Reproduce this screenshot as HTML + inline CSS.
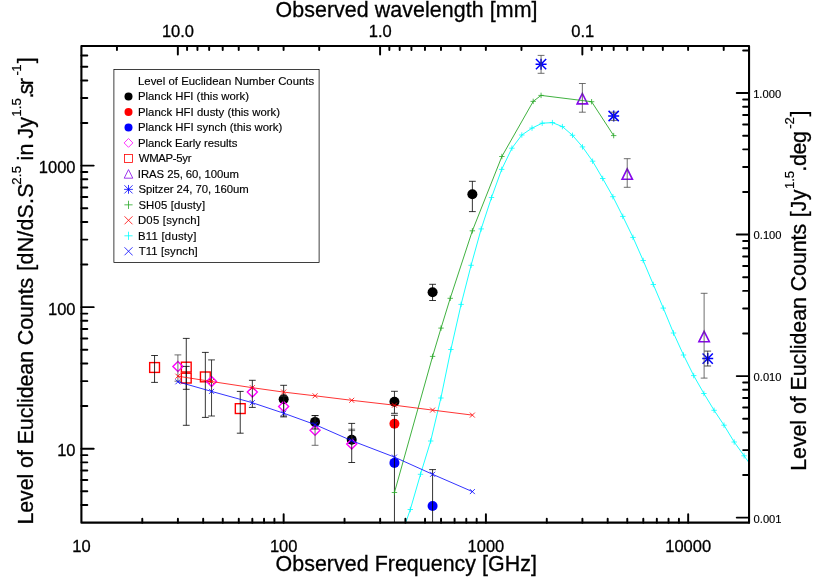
<!DOCTYPE html>
<html><head><meta charset="utf-8"><title>Euclidean Number Counts</title>
<style>html,body{margin:0;padding:0;background:#fff;}body{width:814px;height:581px;overflow:hidden;font-family:"Liberation Sans",sans-serif;}svg text{font-family:"Liberation Sans",sans-serif;}</style></head>
<body>
<svg width="814" height="581" viewBox="0 0 814 581" style="display:block;will-change:transform">
<rect width="814" height="581" fill="#fff"/>
<defs><clipPath id="c"><rect x="81.4" y="46.0" width="667.65" height="476.65"/></clipPath></defs>
<g clip-path="url(#c)">
<rect x="149.66" y="362.60" width="9.80" height="9.80" stroke="#ff0000" stroke-width="1.4" fill="none"/>
<rect x="181.37" y="362.20" width="9.80" height="9.80" stroke="#ff0000" stroke-width="1.4" fill="none"/>
<rect x="181.37" y="373.20" width="9.80" height="9.80" stroke="#ff0000" stroke-width="1.4" fill="none"/>
<rect x="200.44" y="372.00" width="9.80" height="9.80" stroke="#ff0000" stroke-width="1.4" fill="none"/>
<rect x="235.34" y="403.70" width="9.80" height="9.80" stroke="#ff0000" stroke-width="1.4" fill="none"/>
<circle cx="283.66" cy="399.20" r="5.0" fill="#000"/>
<circle cx="315.07" cy="421.90" r="5.0" fill="#000"/>
<circle cx="351.71" cy="439.70" r="5.0" fill="#000"/>
<circle cx="394.45" cy="401.80" r="5.0" fill="#000"/>
<circle cx="432.59" cy="292.30" r="5.0" fill="#000"/>
<circle cx="472.36" cy="194.20" r="5.0" fill="#000"/>
<circle cx="394.45" cy="423.70" r="5.0" fill="#ff0000"/>
<circle cx="394.45" cy="462.90" r="5.0" fill="#0000ff"/>
<circle cx="432.59" cy="506.00" r="5.0" fill="#0000ff"/>
<path d="M172.90 366.50L177.90 361.50L182.90 366.50L177.90 371.50Z" stroke="#ff00ff" stroke-width="1.4" fill="none"/>
<path d="M206.54 381.50L211.54 376.50L216.54 381.50L211.54 386.50Z" stroke="#ff00ff" stroke-width="1.4" fill="none"/>
<path d="M247.33 392.10L252.33 387.10L257.33 392.10L252.33 397.10Z" stroke="#ff00ff" stroke-width="1.4" fill="none"/>
<path d="M278.66 406.40L283.66 401.40L288.66 406.40L283.66 411.40Z" stroke="#ff00ff" stroke-width="1.4" fill="none"/>
<path d="M310.07 430.20L315.07 425.20L320.07 430.20L315.07 435.20Z" stroke="#ff00ff" stroke-width="1.4" fill="none"/>
<path d="M346.71 444.00L351.71 439.00L356.71 444.00L351.71 449.00Z" stroke="#ff00ff" stroke-width="1.4" fill="none"/>
<path d="M577.15 103.90L582.35 93.50L587.55 103.90Z" stroke="#8608ea" stroke-width="1.6" fill="none" stroke-linejoin="miter"/>
<path d="M622.02 179.30L627.22 168.90L632.42 179.30Z" stroke="#8608ea" stroke-width="1.6" fill="none" stroke-linejoin="miter"/>
<path d="M698.92 341.70L704.12 331.30L709.32 341.70Z" stroke="#8608ea" stroke-width="1.6" fill="none" stroke-linejoin="miter"/>
<path d="M535.57 64.20H546.57M541.07 58.70V69.70M535.95 59.09L546.18 69.31M535.95 69.31L546.18 59.09" stroke="#0000ff" stroke-width="1.5" fill="none"/>
<path d="M608.18 116.00H619.18M613.68 110.50V121.50M608.56 110.89L618.79 121.11M608.56 121.11L618.79 110.89" stroke="#0000ff" stroke-width="1.5" fill="none"/>
<path d="M702.21 358.60H713.21M707.71 353.10V364.10M702.59 353.49L712.82 363.72M702.59 363.72L712.82 353.49" stroke="#0000ff" stroke-width="1.5" fill="none"/>
<path d="M154.56 355.50V382.40M151.16 355.50H157.96M151.16 382.40H157.96" stroke="#000" stroke-width="0.8" fill="none"/>
<path d="M186.27 338.40V425.30M182.87 338.40H189.67M182.87 425.30H189.67" stroke="#000" stroke-width="0.8" fill="none"/>
<path d="M186.27 366.40V389.30M182.87 366.40H189.67M182.87 389.30H189.67" stroke="#000" stroke-width="0.8" fill="none"/>
<path d="M205.34 352.40V417.40M201.94 352.40H208.74M201.94 417.40H208.74" stroke="#000" stroke-width="0.8" fill="none"/>
<path d="M240.24 391.40V433.20M236.84 391.40H243.64M236.84 433.20H243.64" stroke="#000" stroke-width="0.8" fill="none"/>
<path d="M177.90 354.90V381.20M174.50 354.90H181.30M174.50 381.20H181.30" stroke="#4a4a4a" stroke-width="0.8" fill="none"/>
<path d="M211.54 359.90V416.00M208.14 359.90H214.94M208.14 416.00H214.94" stroke="#111" stroke-width="0.8" fill="none"/>
<path d="M252.33 380.30V407.40M248.93 380.30H255.73M248.93 407.40H255.73" stroke="#000" stroke-width="0.8" fill="none"/>
<path d="M283.66 396.00V416.00M280.26 396.00H287.06M280.26 416.00H287.06" stroke="#4a4a4a" stroke-width="0.8" fill="none"/>
<path d="M315.07 415.50V445.30M311.67 415.50H318.47M311.67 445.30H318.47" stroke="#4a4a4a" stroke-width="0.8" fill="none"/>
<path d="M351.71 429.20V444.00M348.31 429.20H355.11" stroke="#4a4a4a" stroke-width="0.8" fill="none"/>
<path d="M351.71 430.60V444.00M348.31 430.60H355.11" stroke="#4a4a4a" stroke-width="0.8" fill="none"/>
<path d="M283.66 385.30V416.90M280.26 385.30H287.06M280.26 416.90H287.06" stroke="#000" stroke-width="0.8" fill="none"/>
<path d="M315.07 415.60V429.00M311.67 415.60H318.47M311.67 429.00H318.47" stroke="#000" stroke-width="0.8" fill="none"/>
<path d="M351.71 423.40V462.50M348.31 423.40H355.11M348.31 462.50H355.11" stroke="#000" stroke-width="0.8" fill="none"/>
<path d="M394.45 391.30V413.30M391.05 391.30H397.85M391.05 413.30H397.85" stroke="#000" stroke-width="0.8" fill="none"/>
<path d="M394.45 415.30V540.00M391.05 415.30H397.85M391.05 540.00H397.85" stroke="#000" stroke-width="0.8" fill="none"/>
<path d="M432.59 284.30V300.50M429.19 284.30H435.99M429.19 300.50H435.99" stroke="#000" stroke-width="0.8" fill="none"/>
<path d="M472.36 181.30V211.60M468.96 181.30H475.76M468.96 211.60H475.76" stroke="#000" stroke-width="0.8" fill="none"/>
<path d="M432.59 469.60V540.00M429.19 469.60H435.99M429.19 540.00H435.99" stroke="#000" stroke-width="0.8" fill="none"/>
<path d="M541.07 55.40V73.30M537.67 55.40H544.47M537.67 73.30H544.47" stroke="#4a4a4a" stroke-width="0.8" fill="none"/>
<path d="M582.35 83.50V112.20M578.95 83.50H585.75M578.95 112.20H585.75" stroke="#4a4a4a" stroke-width="0.8" fill="none"/>
<path d="M613.68 112.20V120.40M610.28 112.20H617.08M610.28 120.40H617.08" stroke="#4a4a4a" stroke-width="0.8" fill="none"/>
<path d="M627.22 158.70V187.30M623.82 158.70H630.62M623.82 187.30H630.62" stroke="#4a4a4a" stroke-width="0.8" fill="none"/>
<path d="M704.12 293.30V378.10M700.72 293.30H707.52M700.72 378.10H707.52" stroke="#4a4a4a" stroke-width="0.8" fill="none"/>
<path d="M707.71 351.10V366.00M704.31 351.10H711.11M704.31 366.00H711.11" stroke="#222" stroke-width="0.8" fill="none"/>
<polyline points="400.20,538.40 410.30,509.50 420.50,474.30 430.70,441.00 440.90,398.00 450.90,349.50 461.10,304.40 471.10,265.30 481.20,228.90 491.50,197.50 501.70,169.40 511.90,148.20 521.80,135.00 532.00,128.10 542.20,123.20 552.40,122.60 562.40,126.60 572.50,135.30 582.50,146.90 592.60,161.20 602.70,178.50 612.90,196.70 622.80,216.40 633.00,237.40 643.20,260.50 653.30,284.50 663.30,308.10 673.50,333.00 683.50,355.00 693.70,375.60 703.90,393.50 714.10,410.30 724.00,425.20 734.20,442.00 744.10,455.80 754.20,470.00" stroke="#00ffff" stroke-width="0.9" fill="none"/>
<path d="M397.50 538.40H402.90M400.20 535.70V541.10" stroke="#00ffff" stroke-width="0.8" fill="none"/>
<path d="M407.60 509.50H413.00M410.30 506.80V512.20" stroke="#00ffff" stroke-width="0.8" fill="none"/>
<path d="M417.80 474.30H423.20M420.50 471.60V477.00" stroke="#00ffff" stroke-width="0.8" fill="none"/>
<path d="M428.00 441.00H433.40M430.70 438.30V443.70" stroke="#00ffff" stroke-width="0.8" fill="none"/>
<path d="M438.20 398.00H443.60M440.90 395.30V400.70" stroke="#00ffff" stroke-width="0.8" fill="none"/>
<path d="M448.20 349.50H453.60M450.90 346.80V352.20" stroke="#00ffff" stroke-width="0.8" fill="none"/>
<path d="M458.40 304.40H463.80M461.10 301.70V307.10" stroke="#00ffff" stroke-width="0.8" fill="none"/>
<path d="M468.40 265.30H473.80M471.10 262.60V268.00" stroke="#00ffff" stroke-width="0.8" fill="none"/>
<path d="M478.50 228.90H483.90M481.20 226.20V231.60" stroke="#00ffff" stroke-width="0.8" fill="none"/>
<path d="M488.80 197.50H494.20M491.50 194.80V200.20" stroke="#00ffff" stroke-width="0.8" fill="none"/>
<path d="M499.00 169.40H504.40M501.70 166.70V172.10" stroke="#00ffff" stroke-width="0.8" fill="none"/>
<path d="M509.20 148.20H514.60M511.90 145.50V150.90" stroke="#00ffff" stroke-width="0.8" fill="none"/>
<path d="M519.10 135.00H524.50M521.80 132.30V137.70" stroke="#00ffff" stroke-width="0.8" fill="none"/>
<path d="M529.30 128.10H534.70M532.00 125.40V130.80" stroke="#00ffff" stroke-width="0.8" fill="none"/>
<path d="M539.50 123.20H544.90M542.20 120.50V125.90" stroke="#00ffff" stroke-width="0.8" fill="none"/>
<path d="M549.70 122.60H555.10M552.40 119.90V125.30" stroke="#00ffff" stroke-width="0.8" fill="none"/>
<path d="M559.70 126.60H565.10M562.40 123.90V129.30" stroke="#00ffff" stroke-width="0.8" fill="none"/>
<path d="M569.80 135.30H575.20M572.50 132.60V138.00" stroke="#00ffff" stroke-width="0.8" fill="none"/>
<path d="M579.80 146.90H585.20M582.50 144.20V149.60" stroke="#00ffff" stroke-width="0.8" fill="none"/>
<path d="M589.90 161.20H595.30M592.60 158.50V163.90" stroke="#00ffff" stroke-width="0.8" fill="none"/>
<path d="M600.00 178.50H605.40M602.70 175.80V181.20" stroke="#00ffff" stroke-width="0.8" fill="none"/>
<path d="M610.20 196.70H615.60M612.90 194.00V199.40" stroke="#00ffff" stroke-width="0.8" fill="none"/>
<path d="M620.10 216.40H625.50M622.80 213.70V219.10" stroke="#00ffff" stroke-width="0.8" fill="none"/>
<path d="M630.30 237.40H635.70M633.00 234.70V240.10" stroke="#00ffff" stroke-width="0.8" fill="none"/>
<path d="M640.50 260.50H645.90M643.20 257.80V263.20" stroke="#00ffff" stroke-width="0.8" fill="none"/>
<path d="M650.60 284.50H656.00M653.30 281.80V287.20" stroke="#00ffff" stroke-width="0.8" fill="none"/>
<path d="M660.60 308.10H666.00M663.30 305.40V310.80" stroke="#00ffff" stroke-width="0.8" fill="none"/>
<path d="M670.80 333.00H676.20M673.50 330.30V335.70" stroke="#00ffff" stroke-width="0.8" fill="none"/>
<path d="M680.80 355.00H686.20M683.50 352.30V357.70" stroke="#00ffff" stroke-width="0.8" fill="none"/>
<path d="M691.00 375.60H696.40M693.70 372.90V378.30" stroke="#00ffff" stroke-width="0.8" fill="none"/>
<path d="M701.20 393.50H706.60M703.90 390.80V396.20" stroke="#00ffff" stroke-width="0.8" fill="none"/>
<path d="M711.40 410.30H716.80M714.10 407.60V413.00" stroke="#00ffff" stroke-width="0.8" fill="none"/>
<path d="M721.30 425.20H726.70M724.00 422.50V427.90" stroke="#00ffff" stroke-width="0.8" fill="none"/>
<path d="M731.50 442.00H736.90M734.20 439.30V444.70" stroke="#00ffff" stroke-width="0.8" fill="none"/>
<path d="M741.40 455.80H746.80M744.10 453.10V458.50" stroke="#00ffff" stroke-width="0.8" fill="none"/>
<path d="M751.50 470.00H756.90M754.20 467.30V472.70" stroke="#00ffff" stroke-width="0.8" fill="none"/>
<polyline points="394.45,492.50 432.59,356.40 441.04,328.10 450.23,298.30 472.36,230.80 501.87,156.50 533.19,101.40 541.07,95.40 591.60,101.70 613.68,135.60" stroke="#2aa82a" stroke-width="0.9" fill="none"/>
<path d="M391.75 492.50H397.15M394.45 489.80V495.20" stroke="#2aa82a" stroke-width="0.8" fill="none"/>
<path d="M429.89 356.40H435.29M432.59 353.70V359.10" stroke="#2aa82a" stroke-width="0.8" fill="none"/>
<path d="M438.34 328.10H443.74M441.04 325.40V330.80" stroke="#2aa82a" stroke-width="0.8" fill="none"/>
<path d="M447.53 298.30H452.93M450.23 295.60V301.00" stroke="#2aa82a" stroke-width="0.8" fill="none"/>
<path d="M469.66 230.80H475.06M472.36 228.10V233.50" stroke="#2aa82a" stroke-width="0.8" fill="none"/>
<path d="M499.17 156.50H504.57M501.87 153.80V159.20" stroke="#2aa82a" stroke-width="0.8" fill="none"/>
<path d="M530.49 101.40H535.89M533.19 98.70V104.10" stroke="#2aa82a" stroke-width="0.8" fill="none"/>
<path d="M538.37 95.40H543.77M541.07 92.70V98.10" stroke="#2aa82a" stroke-width="0.8" fill="none"/>
<path d="M588.90 101.70H594.30M591.60 99.00V104.40" stroke="#2aa82a" stroke-width="0.8" fill="none"/>
<path d="M610.98 135.60H616.38M613.68 132.90V138.30" stroke="#2aa82a" stroke-width="0.8" fill="none"/>
<polyline points="177.90,376.20 211.54,381.50 252.33,387.70 283.66,392.10 315.07,395.80 351.71,400.30 394.45,405.20 432.59,410.10 472.36,415.10" stroke="#ff0000" stroke-width="0.8" fill="none"/>
<path d="M175.40 373.70L180.40 378.70M175.40 378.70L180.40 373.70" stroke="#ff0000" stroke-width="0.8" fill="none"/>
<path d="M209.04 379.00L214.04 384.00M209.04 384.00L214.04 379.00" stroke="#ff0000" stroke-width="0.8" fill="none"/>
<path d="M249.83 385.20L254.83 390.20M249.83 390.20L254.83 385.20" stroke="#ff0000" stroke-width="0.8" fill="none"/>
<path d="M281.16 389.60L286.16 394.60M281.16 394.60L286.16 389.60" stroke="#ff0000" stroke-width="0.8" fill="none"/>
<path d="M312.57 393.30L317.57 398.30M312.57 398.30L317.57 393.30" stroke="#ff0000" stroke-width="0.8" fill="none"/>
<path d="M349.21 397.80L354.21 402.80M349.21 402.80L354.21 397.80" stroke="#ff0000" stroke-width="0.8" fill="none"/>
<path d="M391.95 402.70L396.95 407.70M391.95 407.70L396.95 402.70" stroke="#ff0000" stroke-width="0.8" fill="none"/>
<path d="M430.09 407.60L435.09 412.60M430.09 412.60L435.09 407.60" stroke="#ff0000" stroke-width="0.8" fill="none"/>
<path d="M469.86 412.60L474.86 417.60M469.86 417.60L474.86 412.60" stroke="#ff0000" stroke-width="0.8" fill="none"/>
<polyline points="177.90,381.80 211.54,391.40 252.33,402.70 283.66,413.20 315.07,424.60 351.71,440.70 394.45,457.10 432.59,474.30 472.36,491.60" stroke="#0000ff" stroke-width="0.8" fill="none"/>
<path d="M175.40 379.30L180.40 384.30M175.40 384.30L180.40 379.30" stroke="#0000ff" stroke-width="0.8" fill="none"/>
<path d="M209.04 388.90L214.04 393.90M209.04 393.90L214.04 388.90" stroke="#0000ff" stroke-width="0.8" fill="none"/>
<path d="M249.83 400.20L254.83 405.20M249.83 405.20L254.83 400.20" stroke="#0000ff" stroke-width="0.8" fill="none"/>
<path d="M281.16 410.70L286.16 415.70M281.16 415.70L286.16 410.70" stroke="#0000ff" stroke-width="0.8" fill="none"/>
<path d="M312.57 422.10L317.57 427.10M312.57 427.10L317.57 422.10" stroke="#0000ff" stroke-width="0.8" fill="none"/>
<path d="M349.21 438.20L354.21 443.20M349.21 443.20L354.21 438.20" stroke="#0000ff" stroke-width="0.8" fill="none"/>
<path d="M391.95 454.60L396.95 459.60M391.95 459.60L396.95 454.60" stroke="#0000ff" stroke-width="0.8" fill="none"/>
<path d="M430.09 471.80L435.09 476.80M430.09 476.80L435.09 471.80" stroke="#0000ff" stroke-width="0.8" fill="none"/>
<path d="M469.86 489.10L474.86 494.10M469.86 494.10L474.86 489.10" stroke="#0000ff" stroke-width="0.8" fill="none"/>
</g>
<rect x="81.4" y="46.0" width="667.65" height="476.65" stroke="#000" fill="none" stroke-width="2.1" stroke-linejoin="round"/>
<path d="M142.28 522.65v-3.9M177.90 522.65v-3.9M203.17 522.65v-3.9M222.77 522.65v-3.9M238.79 522.65v-3.9M252.33 522.65v-3.9M264.05 522.65v-3.9M274.40 522.65v-3.9M283.66 522.65v-8.5M344.54 522.65v-3.9M380.16 522.65v-3.9M405.42 522.65v-3.9M425.03 522.65v-3.9M441.04 522.65v-3.9M454.58 522.65v-3.9M466.31 522.65v-3.9M476.66 522.65v-3.9M485.91 522.65v-8.5M546.79 522.65v-3.9M582.41 522.65v-3.9M607.68 522.65v-3.9M627.28 522.65v-3.9M643.30 522.65v-3.9M656.84 522.65v-3.9M668.56 522.65v-3.9M678.91 522.65v-3.9M688.17 522.65v-8.5M749.05 522.65v-3.9M723.72 46.00v3.9M688.10 46.00v3.9M662.83 46.00v3.9M643.23 46.00v3.9M627.22 46.00v3.9M613.68 46.00v3.9M601.95 46.00v3.9M591.60 46.00v3.9M582.35 46.00v8.5M521.46 46.00v3.9M485.85 46.00v3.9M460.58 46.00v3.9M440.98 46.00v3.9M424.96 46.00v3.9M411.42 46.00v3.9M399.69 46.00v3.9M389.35 46.00v3.9M380.09 46.00v8.5M319.21 46.00v3.9M283.59 46.00v3.9M258.32 46.00v3.9M238.72 46.00v3.9M222.71 46.00v3.9M209.17 46.00v3.9M197.44 46.00v3.9M187.09 46.00v3.9M177.84 46.00v8.5M116.95 46.00v3.9M81.40 504.97h5.9M81.40 491.25h5.9M81.40 480.05h5.9M81.40 470.57h5.9M81.40 462.37h5.9M81.40 455.13h5.9M81.40 448.65h12.3M81.40 406.05h5.9M81.40 381.13h5.9M81.40 363.44h5.9M81.40 349.73h5.9M81.40 338.52h5.9M81.40 329.05h5.9M81.40 320.84h5.9M81.40 313.60h5.9M81.40 307.13h12.3M81.40 264.52h5.9M81.40 239.60h5.9M81.40 221.92h5.9M81.40 208.20h5.9M81.40 197.00h5.9M81.40 187.52h5.9M81.40 179.32h5.9M81.40 172.08h5.9M81.40 165.60h12.3M81.40 123.00h5.9M81.40 98.08h5.9M81.40 80.40h5.9M81.40 66.68h5.9M81.40 55.47h5.9M749.05 517.62h-12.3M749.05 475.02h-5.9M749.05 450.10h-5.9M749.05 432.42h-5.9M749.05 418.70h-5.9M749.05 407.50h-5.9M749.05 398.02h-5.9M749.05 389.81h-5.9M749.05 382.57h-5.9M749.05 376.10h-12.3M749.05 333.50h-5.9M749.05 308.57h-5.9M749.05 290.89h-5.9M749.05 277.18h-5.9M749.05 265.97h-5.9M749.05 256.50h-5.9M749.05 248.29h-5.9M749.05 241.05h-5.9M749.05 234.57h-12.3M749.05 191.97h-5.9M749.05 167.05h-5.9M749.05 149.37h-5.9M749.05 135.65h-5.9M749.05 124.45h-5.9M749.05 114.97h-5.9M749.05 106.77h-5.9M749.05 99.53h-5.9M749.05 93.05h-12.3M749.05 50.45h-5.9" stroke="#000" fill="none" stroke-width="1.95" stroke-linecap="round"/>
<text x="72.22" y="551.50" font-size="16.5" text-anchor="start" font-family="Liberation Sans, sans-serif" fill="#000" stroke="#000" stroke-width="0.3"  >10</text>
<text x="269.88" y="551.50" font-size="16.5" text-anchor="start" font-family="Liberation Sans, sans-serif" fill="#000" stroke="#000" stroke-width="0.3"  >100</text>
<text x="467.55" y="551.50" font-size="16.5" text-anchor="start" font-family="Liberation Sans, sans-serif" fill="#000" stroke="#000" stroke-width="0.3"  >1000</text>
<text x="665.22" y="551.50" font-size="16.5" text-anchor="start" font-family="Liberation Sans, sans-serif" fill="#000" stroke="#000" stroke-width="0.3"  >10000</text>
<text x="161.88" y="36.70" font-size="16.5" text-anchor="start" font-family="Liberation Sans, sans-serif" fill="#000" stroke="#000" stroke-width="0.3"  >10.0</text>
<text x="368.72" y="36.70" font-size="16.5" text-anchor="start" font-family="Liberation Sans, sans-serif" fill="#000" stroke="#000" stroke-width="0.3"  >1.0</text>
<text x="571.36" y="36.70" font-size="16.5" text-anchor="start" font-family="Liberation Sans, sans-serif" fill="#000" stroke="#000" stroke-width="0.3"  >0.1</text>
<text x="57.19" y="456.25" font-size="16.5" text-anchor="start" font-family="Liberation Sans, sans-serif" fill="#000" stroke="#000" stroke-width="0.3"  >10</text>
<text x="48.01" y="314.73" font-size="16.5" text-anchor="start" font-family="Liberation Sans, sans-serif" fill="#000" stroke="#000" stroke-width="0.3"  >100</text>
<text x="38.84" y="173.20" font-size="16.5" text-anchor="start" font-family="Liberation Sans, sans-serif" fill="#000" stroke="#000" stroke-width="0.3"  >1000</text>
<text x="753.15" y="97.95" font-size="11.2" text-anchor="start" font-family="Liberation Sans, sans-serif" fill="#000" stroke="#000" stroke-width="0.15"  >1.000</text>
<text x="753.56" y="239.47" font-size="11.2" text-anchor="start" font-family="Liberation Sans, sans-serif" fill="#000" stroke="#000" stroke-width="0.15"  >0.100</text>
<text x="753.56" y="381.00" font-size="11.2" text-anchor="start" font-family="Liberation Sans, sans-serif" fill="#000" stroke="#000" stroke-width="0.15"  >0.010</text>
<text x="753.56" y="522.52" font-size="11.2" text-anchor="start" font-family="Liberation Sans, sans-serif" fill="#000" stroke="#000" stroke-width="0.15"  >0.001</text>
<text x="275.49" y="17.00" font-size="21.4" text-anchor="start" font-family="Liberation Sans, sans-serif" fill="#000" stroke="#000" stroke-width="0.3" letter-spacing="0.072" >Observed wavelength [mm]</text>
<text x="275.59" y="570.50" font-size="21.4" text-anchor="start" font-family="Liberation Sans, sans-serif" fill="#000" stroke="#000" stroke-width="0.3" letter-spacing="0.042" >Observed Frequency [GHz]</text>
<g transform="translate(32.80 0) rotate(-90)">
<text x="-524.56" y="0.00" font-size="21.4" font-family="Liberation Sans, sans-serif" fill="#000" stroke="#000" stroke-width="0.3" letter-spacing="-0.071">Level of Euclidean Counts</text>
<text x="-270.83" y="0.00" font-size="21.4" font-family="Liberation Sans, sans-serif" fill="#000" stroke="#000" stroke-width="0.3" >[</text>
<text x="-264.50" y="0.00" font-size="21.4" font-family="Liberation Sans, sans-serif" fill="#000" stroke="#000" stroke-width="0.3" letter-spacing="0.231">dN/dS.S</text>
<text x="-184.66" y="-12.20" font-size="13.2" font-family="Liberation Sans, sans-serif" fill="#000" stroke="#000" stroke-width="0.2" letter-spacing="0.184">2.5</text>
<text x="-160.53" y="0.00" font-size="21.4" font-family="Liberation Sans, sans-serif" fill="#000" stroke="#000" stroke-width="0.3" letter-spacing="0.265">in</text>
<text x="-138.43" y="0.00" font-size="21.4" font-family="Liberation Sans, sans-serif" fill="#000" stroke="#000" stroke-width="0.3" letter-spacing="0.076">Jy</text>
<text x="-116.71" y="-12.20" font-size="13.2" font-family="Liberation Sans, sans-serif" fill="#000" stroke="#000" stroke-width="0.2" letter-spacing="0.055">1.5</text>
<text x="-98.45" y="0.00" font-size="21.4" font-family="Liberation Sans, sans-serif" fill="#000" stroke="#000" stroke-width="0.3" letter-spacing="-1.681">.sr</text>
<text x="-75.39" y="-12.20" font-size="13.2" font-family="Liberation Sans, sans-serif" fill="#000" stroke="#000" stroke-width="0.2" letter-spacing="-0.706">-1</text>
<text x="-63.37" y="0.00" font-size="21.4" font-family="Liberation Sans, sans-serif" fill="#000" stroke="#000" stroke-width="0.3" >]</text>
</g>
<g transform="translate(805.90 0) rotate(-90)">
<text x="-470.76" y="0.00" font-size="21.4" font-family="Liberation Sans, sans-serif" fill="#000" stroke="#000" stroke-width="0.3" letter-spacing="-0.067">Level of Euclidean Counts</text>
<text x="-217.33" y="0.00" font-size="21.4" font-family="Liberation Sans, sans-serif" fill="#000" stroke="#000" stroke-width="0.3" >[</text>
<text x="-211.13" y="0.00" font-size="21.4" font-family="Liberation Sans, sans-serif" fill="#000" stroke="#000" stroke-width="0.3" letter-spacing="0.076">Jy</text>
<text x="-189.11" y="-12.20" font-size="13.2" font-family="Liberation Sans, sans-serif" fill="#000" stroke="#000" stroke-width="0.2" letter-spacing="-0.045">1.5</text>
<text x="-171.65" y="0.00" font-size="21.4" font-family="Liberation Sans, sans-serif" fill="#000" stroke="#000" stroke-width="0.3" letter-spacing="-0.339">.deg</text>
<text x="-128.79" y="-12.20" font-size="13.2" font-family="Liberation Sans, sans-serif" fill="#000" stroke="#000" stroke-width="0.2" letter-spacing="-0.187">-2</text>
<text x="-116.57" y="0.00" font-size="21.4" font-family="Liberation Sans, sans-serif" fill="#000" stroke="#000" stroke-width="0.3" >]</text>
</g>
<rect x="113.9" y="69.5" width="205.2" height="193.0" fill="#fff" stroke="#000" stroke-width="0.75"/>
<text x="137.97" y="84.90" font-size="11.35" text-anchor="start" font-family="Liberation Sans, sans-serif" fill="#000" stroke="#000" stroke-width="0.15" letter-spacing="0.031" >Level of Euclidean Number Counts</text>
<text x="137.97" y="100.38" font-size="11.35" text-anchor="start" font-family="Liberation Sans, sans-serif" fill="#000" stroke="#000" stroke-width="0.15" letter-spacing="0.002" >Planck HFI (this work)</text>
<text x="137.97" y="115.86" font-size="11.35" text-anchor="start" font-family="Liberation Sans, sans-serif" fill="#000" stroke="#000" stroke-width="0.15" letter-spacing="0.032" >Planck HFI dusty (this work)</text>
<text x="137.97" y="131.34" font-size="11.35" text-anchor="start" font-family="Liberation Sans, sans-serif" fill="#000" stroke="#000" stroke-width="0.15" letter-spacing="0.024" >Planck HFI synch (this work)</text>
<text x="137.97" y="146.82" font-size="11.35" text-anchor="start" font-family="Liberation Sans, sans-serif" fill="#000" stroke="#000" stroke-width="0.15" letter-spacing="-0.012" >Planck Early results</text>
<text x="138.85" y="162.30" font-size="11.35" text-anchor="start" font-family="Liberation Sans, sans-serif" fill="#000" stroke="#000" stroke-width="0.15" letter-spacing="-0.317" >WMAP-5yr</text>
<text x="137.85" y="177.78" font-size="11.35" text-anchor="start" font-family="Liberation Sans, sans-serif" fill="#000" stroke="#000" stroke-width="0.15" letter-spacing="-0.066" >IRAS 25, 60, 100um</text>
<text x="138.38" y="193.26" font-size="11.35" text-anchor="start" font-family="Liberation Sans, sans-serif" fill="#000" stroke="#000" stroke-width="0.15" letter-spacing="-0.029" >Spitzer 24, 70, 160um</text>
<text x="138.38" y="208.74" font-size="11.35" text-anchor="start" font-family="Liberation Sans, sans-serif" fill="#000" stroke="#000" stroke-width="0.15" letter-spacing="0.159" >SH05 [dusty]</text>
<text x="137.97" y="224.22" font-size="11.35" text-anchor="start" font-family="Liberation Sans, sans-serif" fill="#000" stroke="#000" stroke-width="0.15" letter-spacing="0.211" >D05 [synch]</text>
<text x="137.97" y="239.70" font-size="11.35" text-anchor="start" font-family="Liberation Sans, sans-serif" fill="#000" stroke="#000" stroke-width="0.15" letter-spacing="0.246" >B11 [dusty]</text>
<text x="138.65" y="255.18" font-size="11.35" text-anchor="start" font-family="Liberation Sans, sans-serif" fill="#000" stroke="#000" stroke-width="0.15" letter-spacing="0.130" >T11 [synch]</text>
<circle cx="128.50" cy="96.48" r="4.0" fill="#000"/>
<circle cx="128.50" cy="111.96" r="4.0" fill="#ff0000"/>
<circle cx="128.50" cy="127.44" r="4.0" fill="#0000ff"/>
<path d="M124.10 142.92L128.50 138.52L132.90 142.92L128.50 147.32Z" stroke="#ff00ff" stroke-width="0.8" fill="none"/>
<rect x="124.50" y="154.40" width="8.00" height="8.00" stroke="#ff0000" stroke-width="0.8" fill="none"/>
<path d="M124.20 178.18L128.50 169.58L132.80 178.18Z" stroke="#8608ea" stroke-width="0.8" fill="none" stroke-linejoin="miter"/>
<path d="M124.10 189.36H132.90M128.50 184.96V193.76M124.41 185.27L132.59 193.45M124.41 193.45L132.59 185.27" stroke="#0000ff" stroke-width="0.8" fill="none"/>
<path d="M124.40 204.84H132.60M128.50 200.74V208.94" stroke="#2aa82a" stroke-width="0.8" fill="none"/>
<path d="M124.50 216.32L132.50 224.32M124.50 224.32L132.50 216.32" stroke="#ff0000" stroke-width="0.8" fill="none"/>
<path d="M124.40 235.80H132.60M128.50 231.70V239.90" stroke="#00ffff" stroke-width="0.8" fill="none"/>
<path d="M124.50 247.28L132.50 255.28M124.50 255.28L132.50 247.28" stroke="#0000ff" stroke-width="0.8" fill="none"/>
</svg>
</body></html>
